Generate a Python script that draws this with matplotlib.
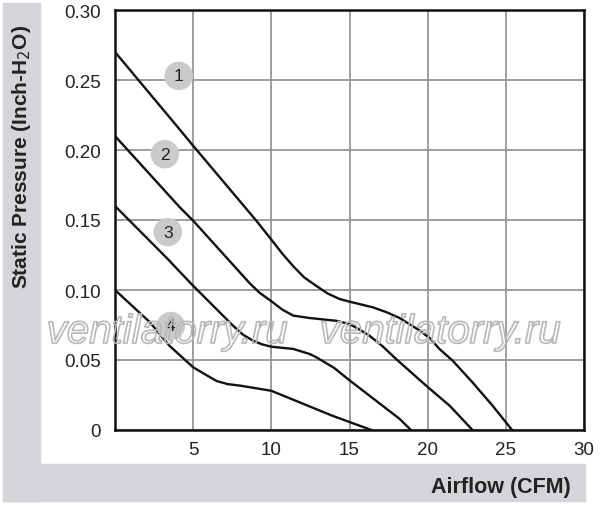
import matplotlib
matplotlib.use("Agg")
from matplotlib import pyplot as plt
from matplotlib.patches import Rectangle
import matplotlib.patheffects as pe

plt.rcParams["font.family"] = ["Liberation Sans", "DejaVu Sans"]

# curves: airflow (CFM) vs static pressure (inch H2O)
flow1 = [0, 4.15, 5, 9.04, 10, 10.7, 11.4, 12.1, 12.87, 13.6, 14.36, 15, 16.5, 17.4, 18.2,
         19.5, 20.2, 20.74, 21.6, 22.87, 24.15, 25.4]
pres1 = [0.270, 0.2145, 0.203, 0.1495, 0.136, 0.126, 0.117, 0.109, 0.103, 0.0975, 0.0936,
         0.0917, 0.0876, 0.084, 0.080, 0.071, 0.065, 0.058, 0.0495, 0.034, 0.0174, 0.0]

flow2 = [0, 4.15, 5, 8.6, 9.25, 10, 10.7, 11.4, 12.45, 14.15, 15, 15.6, 16.27, 17.1, 17.98,
         19.9, 21.4, 22.87]
pres2 = [0.210, 0.159, 0.1495, 0.105, 0.098, 0.092, 0.086, 0.0817, 0.080, 0.078, 0.0757,
         0.072, 0.0674, 0.060, 0.0507, 0.0317, 0.0174, 0.0]

flow3 = [0, 3.3, 4.57, 5, 7.55, 8.2, 8.83, 9.4, 10, 11.4, 12.45, 12.87, 14.0, 15, 18.2, 18.93]
pres3 = [0.160, 0.123, 0.108, 0.103, 0.0745, 0.068, 0.0638, 0.0612, 0.0595, 0.0579, 0.0543,
         0.052, 0.0445, 0.0355, 0.008, 0.0]

flow4 = [0, 2.23, 3.5, 5, 5.8, 6.5, 7.2, 8, 10, 11.8, 13.9, 16.4]
pres4 = [0.100, 0.077, 0.060, 0.0448, 0.0395, 0.035, 0.0328, 0.0317, 0.028, 0.0198, 0.0102, 0.0]

curve_names = ["1", "2", "3", "4"]
label_x = [4.08, 3.19, 3.38, 3.57]
label_y = [0.2529, 0.197, 0.1414, 0.0743]

x_ticks = [5, 10, 15, 20, 25, 30]
y_ticks = [0, 0.05, 0.10, 0.15, 0.20, 0.25, 0.30]
y_tick_labels = ["0", "0.05", "0.10", "0.15", "0.20", "0.25", "0.30"]

fig = plt.figure(figsize=(6, 5.06), dpi=100)
fig.patch.set_facecolor("white")

gray = "#d3d5d8"
W, H = 600.0, 506.0
# L-shaped gray band behind the axis titles
fig.patches.append(Rectangle((3 / W, (H - 502) / H), 37 / W, 498 / H,
                             transform=fig.transFigure, color=gray, zorder=0))
fig.patches.append(Rectangle((3 / W, (H - 502) / H), 582 / W, 37 / H,
                             transform=fig.transFigure, color=gray, zorder=0))

ax = fig.add_axes([115 / W, 75 / H, 469 / W, 420 / H])
ax.set_facecolor("white")

for fl, pr in [(flow1, pres1), (flow2, pres2), (flow3, pres3), (flow4, pres4)]:
    ax.plot(fl, pr, color="#111111", lw=1.7, zorder=3, solid_joinstyle="round")

ax.scatter(label_x, label_y, s=420, color="#c9cacc", edgecolors="none", zorder=4)
for name, lx, ly in zip(curve_names, label_x, label_y):
    ax.text(lx, ly, name, ha="center", va="center", fontsize=12.5, color="#222222", zorder=5)

ax.set_xlim(0, 30)
ax.set_ylim(0, 0.30)
ax.set_xticks(x_ticks)
ax.set_yticks(y_ticks)
ax.set_yticklabels(y_tick_labels)
ax.tick_params(length=0, labelsize=13.5, colors="#222222")
ax.tick_params(axis="y", pad=10)
ax.tick_params(axis="x", pad=8)
ax.grid(True, color="#8e8e8e", lw=1.2)
ax.set_axisbelow(True)
for sp in ax.spines.values():
    sp.set_color("#111111")
    sp.set_linewidth(1.8)

# watermark: outline only, no fill
for wx in [167, 440]:
    fig.text(wx / W, (H - 333) / H, "ventilatorry.ru", fontsize=29, style="italic",
             color=(1, 1, 1, 0), ha="center", va="center", zorder=10,
             path_effects=[pe.withStroke(linewidth=1.2, foreground="#b8b8b8")])

fig.text(22 / W, (H - 157) / H, "Static Pressure (Inch-H$_2$O)", rotation=90,
         ha="center", va="center", fontsize=15, fontweight="bold", color="#222222")
fig.text(571 / W, (H - 488) / H, "Airflow (CFM)", ha="right", va="center",
         fontsize=15.5, fontweight="bold", color="#222222")

fig.savefig("out.png", dpi=100)
